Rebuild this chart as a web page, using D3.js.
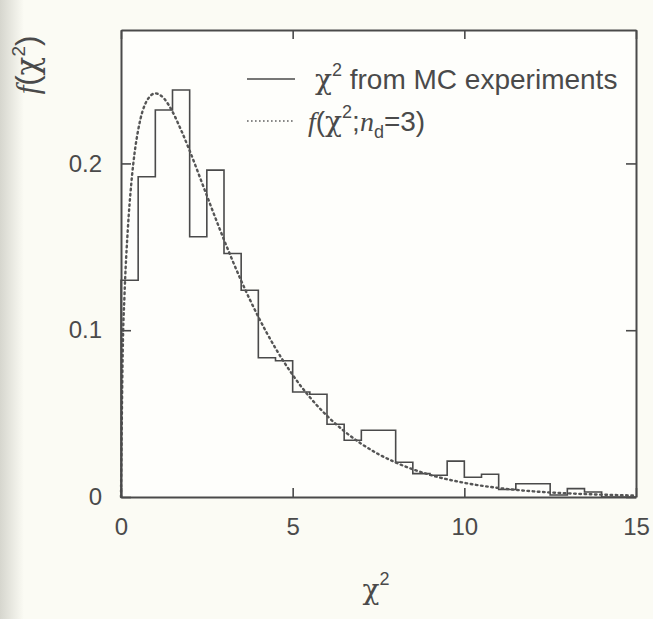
<!DOCTYPE html>
<html>
<head>
<meta charset="utf-8">
<script src="https://cdn.jsdelivr.net/npm/d3@7"></script>
<style>
  html, body { margin: 0; padding: 0; background: #fbfbf4; }
  svg { display: block; }
  .tick text { font-family: "Liberation Sans", Arial, sans-serif; fill: #4a4a4a; }
</style>
</head>
<body>
<div id="chart"></div>
<script>
// histogram of chi^2 from MC experiments, bin lower edges (width 0.5)
const BIN_LO = [0, 0.5, 1, 1.5, 2, 2.5, 3, 3.5, 4, 4.5,
                5, 5.5, 6, 6.5, 7, 7.5, 8, 8.5, 9, 9.5,
                10, 10.5, 11, 11.5, 12, 12.5, 13, 13.5, 14, 14.5];
const BIN_HI = [0.5, 1, 1.5, 2, 2.5, 3, 3.5, 4, 4.5, 5,
                5.5, 6, 6.5, 7, 7.5, 8, 8.5, 9, 9.5, 10,
                10.5, 11, 11.5, 12, 12.5, 13, 13.5, 14, 14.5, 15];
const BIN_VAL = [0.130, 0.192, 0.232, 0.244, 0.156, 0.196, 0.146, 0.124, 0.0835, 0.0817,
                 0.063, 0.0616, 0.0436, 0.034, 0.040, 0.040, 0.0208, 0.014, 0.013, 0.0215,
                 0.0118, 0.0136, 0.0045, 0.0079, 0.0079, 0.0012, 0.005, 0.003, 0, 0];

// dotted curve f(chi^2; n_d = 3)
const CURVE_X = [0, 0.05, 0.1, 0.2, 0.3, 0.4, 0.5, 0.75, 1, 1.25, 1.5, 1.75, 2,
                 2.5, 3, 3.5, 4, 4.5, 5, 5.5, 6, 6.5, 7, 7.5, 8, 9, 10, 11, 12, 13, 14, 15];
const CURVE_Y = [0, 0.087, 0.120, 0.161, 0.188, 0.207, 0.220, 0.2375, 0.242, 0.239, 0.231, 0.220, 0.2076,
                 0.1807, 0.1542, 0.1297, 0.108, 0.0892, 0.0732, 0.0598, 0.0487, 0.0395, 0.0319, 0.0257,
                 0.0207, 0.0133, 0.0085, 0.0054, 0.0034, 0.0022, 0.0014, 0.0009];

const X_TICKS = [0, 5, 10, 15];
const Y_TICKS = [0, 0.1, 0.2];

const W = 653, H = 619;
const margin = { top: 30, right: 17, bottom: 122, left: 121 };
const width  = W - margin.left - margin.right;
const height = H - margin.top - margin.bottom;
const INK = "#4a4a4a";

const svg = d3.select("#chart").append("svg")
  .attr("width", W).attr("height", H);

// scanned paper look
const grad = svg.append("defs").append("linearGradient")
  .attr("id", "edge").attr("x1", 0).attr("x2", 1).attr("y1", 0).attr("y2", 0);
grad.append("stop").attr("offset", "0").attr("stop-color", "#d6d6ce");
grad.append("stop").attr("offset", "1").attr("stop-color", "#fbfbf4");
svg.append("rect").attr("width", W).attr("height", H).attr("fill", "#fbfbf4");
svg.append("rect").attr("width", 24).attr("height", H).attr("fill", "url(#edge)");

const g = svg.append("g")
  .attr("transform", `translate(${margin.left},${margin.top})`);

g.append("rect").attr("width", width).attr("height", height).attr("fill", "#fefefb");

const x = d3.scaleLinear().domain([0, 15]).range([0, width]);
const y = d3.scaleLinear().domain([0, 0.28]).range([height, 0]);

// histogram outline as a step line
const steps = [];
BIN_VAL.forEach((v, i) => {
  steps.push([BIN_LO[i], v]);
  steps.push([BIN_HI[i], v]);
});
steps.unshift([0, 0]);

g.append("path")
  .datum(steps)
  .attr("fill", "none")
  .attr("stroke", INK)
  .attr("stroke-width", 1.6)
  .attr("d", d3.line().x(d => x(d[0])).y(d => y(d[1])));

// theoretical curve, dotted
const curve = CURVE_X.map((cx, i) => [cx, CURVE_Y[i]]);
g.append("path")
  .datum(curve)
  .attr("fill", "none")
  .attr("stroke", "#555")
  .attr("stroke-width", 2.4)
  .attr("stroke-dasharray", "1.6,3.6")
  .attr("stroke-linecap", "round")
  .attr("d", d3.line().x(d => x(d[0])).y(d => y(d[1])).curve(d3.curveMonotoneX));

// axes — ticks point inward on all four sides
const styleAxis = sel => {
  sel.select(".domain").attr("stroke", INK).attr("stroke-width", 2);
  sel.selectAll(".tick line").attr("stroke", INK).attr("stroke-width", 1.6);
  sel.selectAll(".tick text").style("font-size", "24px");
};

g.append("g")
  .attr("transform", `translate(0,${height})`)
  .call(d3.axisBottom(x).tickValues(X_TICKS).tickSizeInner(-9).tickSizeOuter(0)
          .tickPadding(21).tickFormat(d3.format("d")))
  .call(styleAxis);

g.append("g")
  .call(d3.axisTop(x).tickValues(X_TICKS).tickSizeInner(-9).tickSizeOuter(0).tickFormat(""))
  .call(styleAxis);

g.append("g")
  .call(d3.axisLeft(y).tickValues(Y_TICKS).tickSizeInner(-10).tickSizeOuter(0)
          .tickPadding(19).tickFormat(d => d === 0 ? "0" : d3.format(".1f")(d)))
  .call(styleAxis);

g.append("g")
  .attr("transform", `translate(${width},0)`)
  .call(d3.axisRight(y).tickValues(Y_TICKS).tickSizeInner(-10).tickSizeOuter(0).tickFormat(""))
  .call(styleAxis);

// axis titles
const SANS  = "'Liberation Sans', Arial, sans-serif";
const SERIF = "'Liberation Serif', 'Times New Roman', serif";
const GREEK = "'DejaVu Serif', serif";

const xt = svg.append("text")
  .attr("x", margin.left + width / 2 - 16).attr("y", 599)
  .attr("fill", INK).style("font-family", GREEK).style("font-size", "28px");
xt.append("tspan").text("χ");
xt.append("tspan").attr("dy", -14).style("font-family", SANS).style("font-size", "18px").text("2");

const yt = svg.append("text")
  .attr("transform", "translate(38,65) rotate(-90)")
  .attr("text-anchor", "middle")
  .attr("fill", INK).style("font-size", "31px");
yt.append("tspan").style("font-family", SERIF).style("font-style", "italic").text("f");
yt.append("tspan").style("font-family", SANS).text("(");
yt.append("tspan").style("font-family", GREEK).text("χ");
yt.append("tspan").attr("dy", -13).style("font-family", SANS).style("font-size", "19px").text("2");
yt.append("tspan").attr("dy", 13).style("font-family", SANS).text(")");

// legend
const leg = svg.append("g");
leg.append("line")
  .attr("x1", 247).attr("x2", 295).attr("y1", 79).attr("y2", 79)
  .attr("stroke", INK).attr("stroke-width", 1.6);
leg.append("line")
  .attr("x1", 247).attr("x2", 295).attr("y1", 121).attr("y2", 121)
  .attr("stroke", "#888").attr("stroke-width", 2)
  .attr("stroke-dasharray", "1.6,2.4");

const l1 = leg.append("text")
  .attr("x", 315).attr("y", 89)
  .attr("fill", INK).style("font-family", SANS).style("font-size", "28px");
l1.append("tspan").style("font-family", GREEK).text("χ");
l1.append("tspan").attr("dy", -13).style("font-size", "18px").text("2");
l1.append("tspan").attr("dy", 13).text(" from MC experiments");

const l2 = leg.append("text")
  .attr("x", 308).attr("y", 131)
  .attr("fill", INK).style("font-family", SANS).style("font-size", "28px");
l2.append("tspan").style("font-family", SERIF).style("font-style", "italic").text("f");
l2.append("tspan").text("(");
l2.append("tspan").style("font-family", GREEK).text("χ");
l2.append("tspan").attr("dy", -13).style("font-size", "18px").text("2");
l2.append("tspan").attr("dy", 13).text(";");
l2.append("tspan").style("font-family", SERIF).style("font-style", "italic").text("n");
l2.append("tspan").attr("dy", 7).style("font-size", "18px").text("d");
l2.append("tspan").attr("dy", -7).text("=3)");
</script>
</body>
</html>
